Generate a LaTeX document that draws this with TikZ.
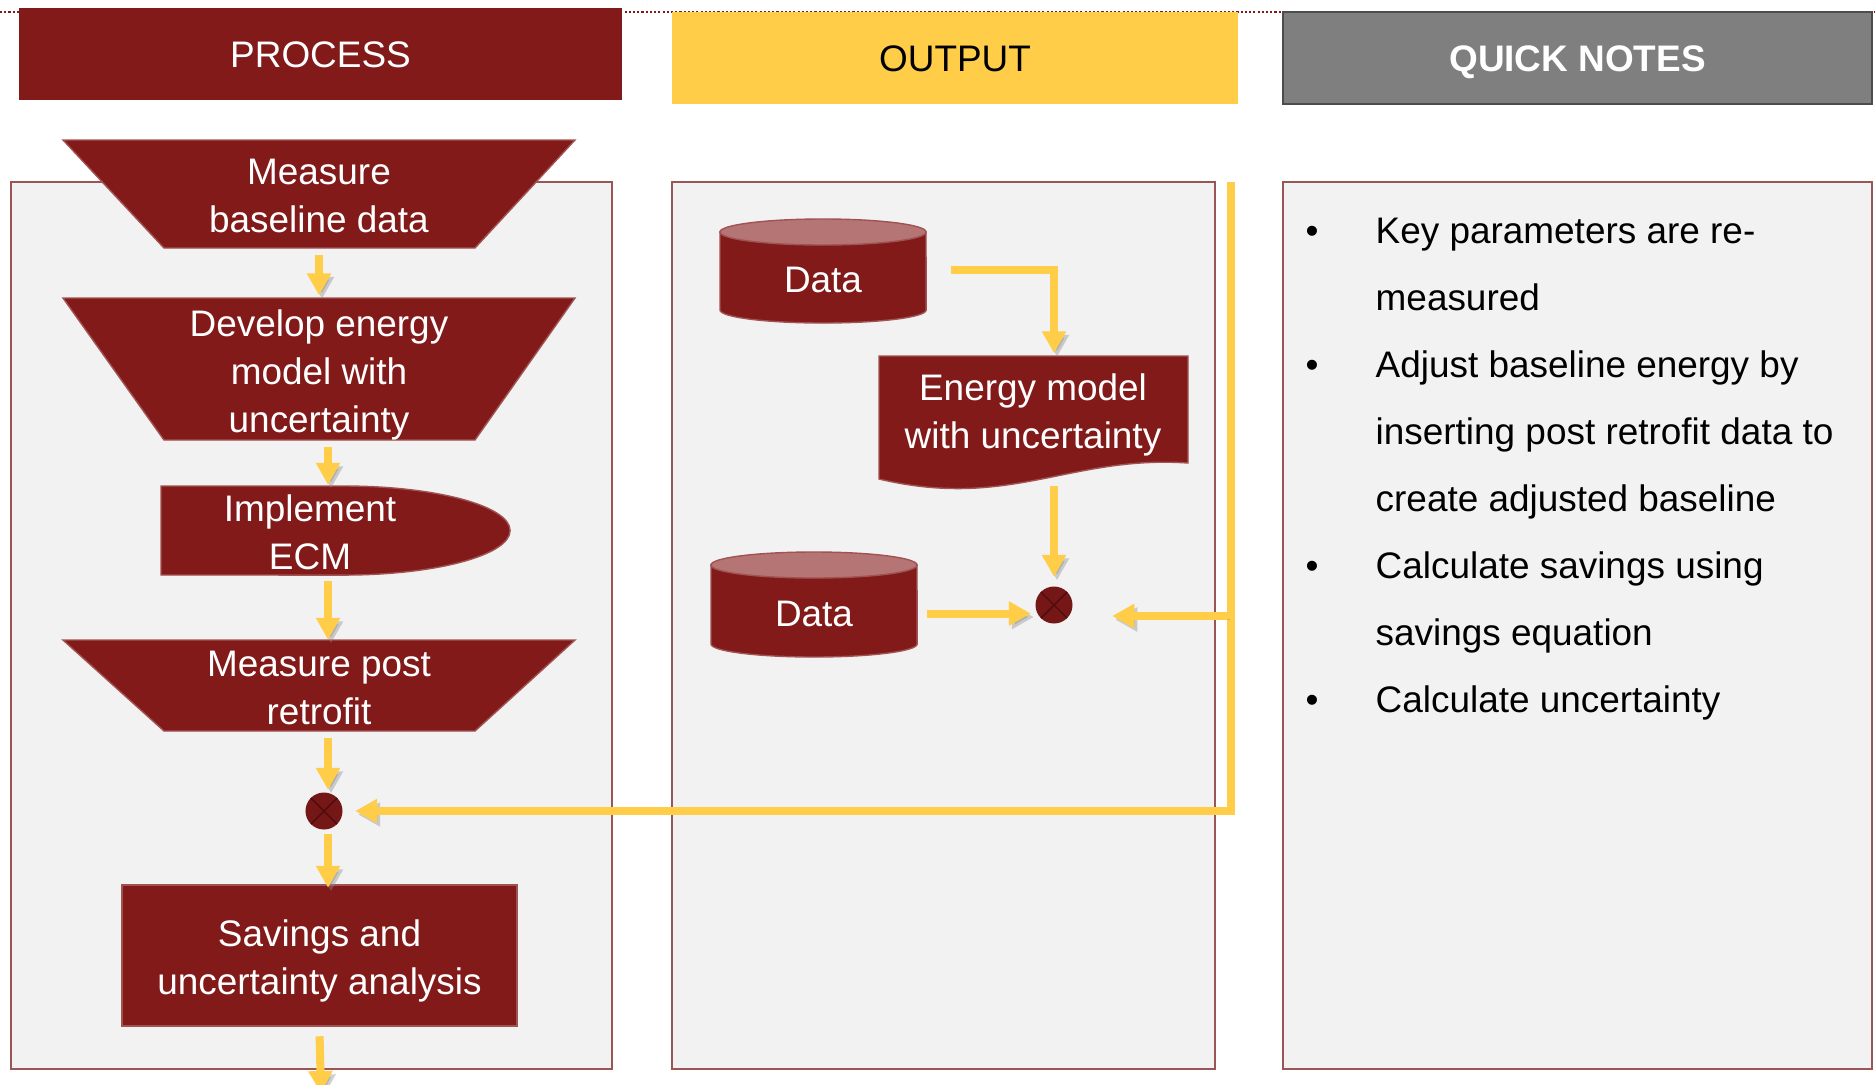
\documentclass[tikz,border=0pt]{standalone}
\usepackage{fontspec}
\setmainfont{Liberation Sans}
\usepackage{xcolor}
\usetikzlibrary{calc,arrows.meta,positioning,shapes.geometric}

\definecolor{procred}{HTML}{821A1A}
\definecolor{cyltop}{HTML}{B57575}
\definecolor{flowyellow}{HTML}{FFCD47}
\definecolor{notegray}{HTML}{7F7F7F}
\definecolor{panelgray}{HTML}{F2F2F2}
\definecolor{panelline}{HTML}{9A5656}
\definecolor{crossline}{HTML}{4E0C0C}
\newcommand{\diagfont}{\fontsize{10.5pt}{13.7pt}\selectfont}

\begin{document}
\begin{tikzpicture}[x=0.01cm, y=-0.01cm,
    every node/.style={font=\diagfont},
    header/.style={minimum width=#1, minimum height=0.92cm, inner sep=0, text height=0.265cm, text depth=0cm},
    panel/.style={fill=panelgray, draw=panelline, line width=0.6pt},
    procshape/.style={fill=procred, draw=procred!75!white, line width=0.4pt},
    proctext/.style={text=white, align=center, inner sep=0},
    junction/.style={circle, fill=procred!90!black, minimum size=0.37cm, inner sep=0,
        path picture={\draw[crossline, line width=0.4pt] (path picture bounding box.north west) -- (path picture bounding box.south east)
            (path picture bounding box.north east) -- (path picture bounding box.south west);}},
    flow/.style={draw=flowyellow, line width=0.08cm, -{Triangle[width=0.23cm,length=0.22cm]}, shorten <=0.04cm, shorten >=0.02cm,
        preaction={draw=black!45, opacity=0.4, transform canvas={shift={(0.03cm,-0.035cm)}}}},
    notetext/.style={anchor=base west, inner sep=0},
]
    \def\cylrx{1.03cm}  % cylinder half width
    \def\cylry{0.13cm}  % cylinder end radius
    \useasboundingbox (0,0) rectangle (1875,1084);

    % Dotted guide line behind the headers
    \draw[procred, line width=0.6pt, dash pattern=on 0.6pt off 0.6pt] (0,12) -- (1875,12);

    % Column headers
    \node[header=6.03cm, fill=procred, text=white] (hproc) at (320.5,54) {PROCESS};
    \node[header=5.66cm, fill=flowyellow] (hout) at (955,58) {OUTPUT};
    \node[header=5.89cm, fill=notegray, draw=black!70, text=white, font=\diagfont\bfseries] (hnotes) at (1577.5,58) {QUICK NOTES};

    % Column panels
    \draw[panel] (11,182) rectangle (612,1069);
    \draw[panel] (672,182) rectangle (1215,1069);
    \draw[panel] (1283,182) rectangle (1872,1069);

    % Process steps (funnels: wide top, narrow bottom)
    \foreach \name/\top/\bot/\ty/\txt in {baseline/140/248/196/{Measure\\baseline data},
        develop/298/440/375/{Develop energy\\model with\\uncertainty},
        retrofit/640/731/688/{Measure post\\retrofit}} {
        \path[procshape] (63,\top) -- (575,\top) -- (475,\bot) -- (164,\bot) -- cycle;
        \node[proctext, minimum width=3.11cm, minimum height={(\bot-\top)*0.01cm}] (\name) at (319,\ty) {\txt};
    }
    \path[procshape] (161,486) -- (344,486) arc[start angle=90, end angle=-90, x radius=1.66cm, y radius=0.445cm] -- (161,575) -- cycle;
    \node[proctext, minimum height=0.89cm] (implement) at (310,532) {Implement\\ECM};
    \node[junction] (sumP) at (324,811) {};
    \path[procshape] (122,885) rectangle (517,1026);
    \node[proctext, minimum width=3.95cm, minimum height=1.41cm] (savings) at (319.5,961) {Savings and\\uncertainty analysis};
    \coordinate (colP) at (328,0);
    \coordinate (exit) at (321,1095);

    % Process flow
    \draw[flow, shorten >=0.08cm] (baseline.south) -- (develop.north);
    \draw[flow, shorten <=0cm] (develop.south -| colP) -- (implement.north -| colP);
    \draw[flow] (implement.south -| colP) -- (retrofit.north -| colP);
    \draw[flow] (retrofit.south -| colP) -- (sumP.north -| colP);
    \draw[flow] (sumP.south -| colP) -- (savings.north -| colP);
    \draw[flow] (savings.south) -- (exit);

    % Data stores
    \foreach \name/\l/\r/\t/\b in {dataA/720/926/232/310, dataB/711/917/565/644} {
        \filldraw[fill=procred, draw=procred!75!white, line width=0.4pt] (\l,\t) -- (\l,\b) arc[start angle=180, end angle=360, x radius=\cylrx, y radius=\cylry] -- (\r,\t) -- cycle;
        \filldraw[fill=cyltop, draw=procred!75!white, line width=0.4pt] ({(\l+\r)/2},\t) ellipse[x radius=\cylrx, y radius=\cylry];
        \node[proctext, minimum width=2.06cm] (\name) at ({(\l+\r)/2},{(\t+\b)/2+9}) {Data};
    }

    % Energy model document
    \path[procshape] (879,356) -- (1188,356) -- (1188,463) .. controls (1070,455) and (1010,510) .. (879,479) -- cycle;
    \node[proctext, minimum width=3.09cm, minimum height=1.18cm] (energy) at (1033,415) {Energy model\\with uncertainty};
    \node[junction] (sumO) at (1054,605) {};

    % Output flow
    \draw[flow, shorten <=0.24cm] ([yshift=0.1cm]dataA.east) -| (sumO |- energy.north);
    \draw[flow, shorten <=0.11cm, shorten >=0.09cm] (sumO |- energy.south) -- (sumO.north);
    \draw[flow, shorten <=0.09cm, shorten >=0.04cm] (dataB.east) -- (dataB.east -| sumO.west);

    % Feedback line to the process junction
    \coordinate (feedtop) at (1231,182);
    \coordinate (branch) at (1231,616);
    \draw[flow, line join=miter, shorten <=0cm, shorten >=0.12cm] (feedtop) |- (sumP.east);
    \draw[flow, shorten >=0.39cm] (branch) -- (branch -| sumO.east);

    % Quick notes
    \foreach \txt [count=\i from 0] in {Key parameters are re-, measured, Adjust baseline energy by,
        inserting post retrofit data to, create adjusted baseline, Calculate savings using, savings equation, Calculate uncertainty}
        \node[notetext] (note\i) at (1375,243+67*\i) {\txt};
    \foreach \i in {0,2,5,7}
        \node[anchor=base, inner sep=0] (bullet\i) at (1312,243+67*\i) {\textbullet};
\end{tikzpicture}
\end{document}
